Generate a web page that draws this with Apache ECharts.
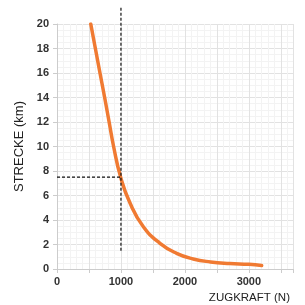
<!DOCTYPE html>
<html>
<head>
<meta charset="utf-8">
<script src="https://cdn.jsdelivr.net/npm/echarts@6/dist/echarts.min.js"></script>
<style>
  html, body { margin: 0; padding: 0; background: #fff; }
  #chart { width: 305px; height: 305px; }
</style>
</head>
<body>
<div id="chart"></div>
<script>
// Zugkraft (N) gegen Strecke (km)
var zugkraft = [528, 600, 672, 745, 815, 885, 995, 1140, 1350, 1610, 1870, 2130, 2400, 2700, 3000, 3200];
var strecke  = [20, 18, 16, 14, 12, 10, 7.5, 5.4, 3.45, 2.1, 1.28, 0.82, 0.58, 0.45, 0.38, 0.28];
var markX = [1000];
var markY = [7.5];
var xTicks = [0, 1000, 2000, 3000];
var yTicks = [0, 2, 4, 6, 8, 10, 12, 14, 16, 18, 20];

var curve = zugkraft.map(function(x, i) { return [x, strecke[i]]; });

var myChart = echarts.init(document.getElementById("chart"));
var labelFont = { color: "#333", fontSize: 11, fontWeight: "bold", fontFamily: "Liberation Sans" };

var option = {
  animation: false,
  grid: { left: 57, right: 12, top: 24, bottom: 36 },
  xAxis: {
    type: "value",
    min: 0,
    max: 3690,
    interval: 500,
    name: "ZUGKRAFT (N)",
    nameLocation: "end",
    nameGap: 0,
    nameTextStyle: {
      color: "#222", fontSize: 11.5, fontFamily: "Liberation Sans",
      align: "right", verticalAlign: "top", padding: [23, 3, 0, 0]
    },
    axisLine: { lineStyle: { color: "#ccc" } },
    axisTick: { show: true, length: 4, lineStyle: { color: "#ccc" } },
    axisLabel: Object.assign({
      margin: 7,
      formatter: function(v) { return xTicks.indexOf(v) >= 0 ? String(v) : ""; }
    }, labelFont),
    splitLine: { lineStyle: { color: "#e2e2e2" } },
    minorTick: { show: false, splitNumber: 5 },
    minorSplitLine: { show: true, lineStyle: { color: "#f3f3f3" } }
  },
  yAxis: {
    type: "value",
    min: 0,
    max: 20,
    interval: 2,
    name: "STRECKE (km)",
    nameLocation: "middle",
    nameGap: 28,
    nameRotate: 90,
    nameTextStyle: { color: "#222", fontSize: 13, fontFamily: "Liberation Sans" },
    axisLine: { show: true, lineStyle: { color: "#ccc" } },
    axisTick: { show: true, length: 4, lineStyle: { color: "#ccc" } },
    axisLabel: Object.assign({
      margin: 8,
      formatter: function(v) { return yTicks.indexOf(v) >= 0 ? String(v) : ""; }
    }, labelFont),
    splitLine: { lineStyle: { color: "#e2e2e2" } },
    minorTick: { show: false, splitNumber: 4 },
    minorSplitLine: { show: true, lineStyle: { color: "#f3f3f3" } }
  },
  series: [
    {
      type: "line",
      data: curve,
      smooth: 0.5,
      showSymbol: false,
      lineStyle: { color: "#f07a32", width: 3.5, cap: "round" },
      z: 3
    },
    {
      type: "line",
      data: [[markX[0], 1.5], [markX[0], 21.4]],
      clip: false,
      showSymbol: false,
      lineStyle: { color: "#111", width: 1.2, type: [3, 2] },
      z: 4
    },
    {
      type: "line",
      data: [[0, markY[0]], [markX[0], markY[0]]],
      showSymbol: false,
      lineStyle: { color: "#111", width: 1.2, type: [3, 2] },
      z: 4
    }
  ]
};

myChart.setOption(option);
</script>
</body>
</html>
